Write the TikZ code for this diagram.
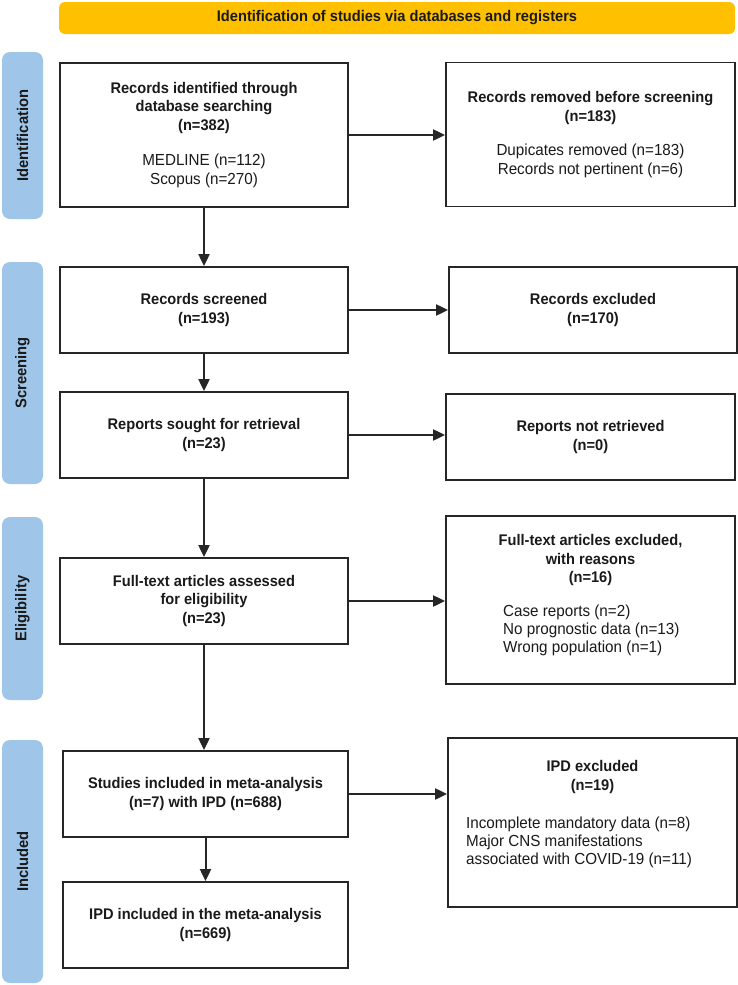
\documentclass[tikz,border=0pt]{standalone}
\usepackage{fontspec}
\setmainfont{Liberation Sans}[FakeStretch=0.95]
\usetikzlibrary{arrows.meta}
\definecolor{bannerc}{HTML}{FFC000}
\definecolor{barc}{HTML}{9FC5E8}
\definecolor{linec}{HTML}{262626}
\definecolor{txtc}{HTML}{1A1A1A}
\tikzset{
  boxnode/.style={draw=linec, line width=1.8pt, fill=white, inner sep=0pt, align=center,
    text=txtc, font=\fontsize{15.4}{18.5}\selectfont\bfseries},
  txtnode/.style={inner sep=0pt, text=txtc, font=\fontsize{15.4}{18.5}\selectfont\bfseries},
  listnode/.style={inner sep=0pt, text=txtc, align=left, font=\fontsize{16}{18}\selectfont},
  arr/.style={draw=linec, line width=2pt, -{Triangle[length=12pt,width=11pt]}},
  barnode/.style={fill=barc, rounded corners=8pt},
  barlabel/.style={rotate=90, text=txtc, font=\fontsize{15.5}{17}\selectfont\bfseries, inner sep=0pt}
}
\newcommand{\rg}{\mdseries\fontsize{16}{18.5}\selectfont}
\begin{document}
\begin{tikzpicture}[x=1pt,y=-1pt]
\useasboundingbox (0,0) rectangle (738,985);
% banner
\node[fill=bannerc, rounded corners=6pt, minimum width=676pt, minimum height=32pt, inner sep=0pt,
  text=txtc, font=\fontsize{15.4}{18}\selectfont\bfseries] (banner) at (397,18)
  {Identification of studies via databases and registers};
% side bars
\node[barnode, minimum width=41pt, minimum height=167pt] (barid) at (22.5,135.5) {};
\node[barlabel] (baridl) at (barid.center) {Identification};
\node[barnode, minimum width=41pt, minimum height=222pt] (barsc) at (22.5,373) {};
\node[barlabel] (barscl) at (barsc.center) {Screening};
\node[barnode, minimum width=41pt, minimum height=183pt] (barel) at (22.5,608.5) {};
\node[barlabel] (barell) at (barel.center) {Eligibility};
\node[barnode, minimum width=41pt, minimum height=243pt] (barin) at (22.5,861.5) {};
\node[barlabel] (barinl) at (barin.center) {Included};
% left column
\node[boxnode, minimum width=288pt, minimum height=144pt] (b1) at (204,135)
  {Records identified through\\ database searching\\ (n=382)\\[17pt] \rg MEDLINE (n=112)\\ \rg Scopus (n=270)};
\node[boxnode, minimum width=288pt, minimum height=86pt] (b2) at (204,310)
  {Records screened\\ (n=193)};
\node[boxnode, minimum width=288pt, minimum height=86pt] (b3) at (204,435)
  {Reports sought for retrieval\\ (n=23)};
\node[boxnode, minimum width=288pt, minimum height=86pt] (b4) at (204,601)
  {Full-text articles assessed\\ for eligibility\\ (n=23)};
\node[boxnode, minimum width=285pt, minimum height=86pt] (b5) at (205.5,794)
  {Studies included in meta-analysis\\ (n=7) with IPD (n=688)};
\node[boxnode, minimum width=285pt, minimum height=86pt] (b6) at (205.5,925)
  {IPD included in the meta-analysis\\ (n=669)};
% right column
\node[boxnode, minimum width=289pt, minimum height=144pt] (r1) at (590.5,134.5)
  {Records removed before screening\\ (n=183)\\[16pt] \rg Dupicates removed (n=183)\\ \rg Records not pertinent (n=6)};
\node[boxnode, minimum width=288pt, minimum height=86pt] (r2) at (593,310)
  {Records excluded\\ (n=170)};
\node[boxnode, minimum width=289pt, minimum height=86pt] (r3) at (590.5,437)
  {Reports not retrieved\\ (n=0)};
\node[boxnode, minimum width=289pt, minimum height=168pt] (r4) at (590.5,600) {};
\node[txtnode, align=center] (r4h) at (590.5,560.5)
  {Full-text articles excluded,\\ with reasons\\ (n=16)};
\node[listnode, anchor=west] (r4l) at (503,630.5)
  {Case reports (n=2)\\ No prognostic data (n=13)\\ Wrong population (n=1)};
\node[boxnode, minimum width=289pt, minimum height=169pt] (r5) at (592.5,822.5) {};
\node[txtnode, align=center] (r5h) at (592.5,777)
  {IPD excluded\\ (n=19)};
\node[listnode, anchor=west] (r5l) at (466,842.5)
  {Incomplete mandatory data (n=8)\\ Major CNS manifestations\\ associated with COVID-19 (n=11)};
% vertical arrows
\draw[arr] (b1.south) -- (b2.north);
\draw[arr] (b2.south) -- (b3.north);
\draw[arr] (b3.south) -- (b4.north);
\draw[arr] (b4.south) -- (b4.south |- b5.north);
\draw[arr] (b5.south) -- (b6.north);
% horizontal arrows
\draw[arr] (b1.east) -- (b1.east -| r1.west);
\draw[arr] (b2.east) -- (b2.east -| r2.west);
\draw[arr] (b3.east) -- (b3.east -| r3.west);
\draw[arr] (b4.east) -- (b4.east -| r4.west);
\draw[arr] (b5.east) -- (b5.east -| r5.west);
\end{tikzpicture}
\end{document}
